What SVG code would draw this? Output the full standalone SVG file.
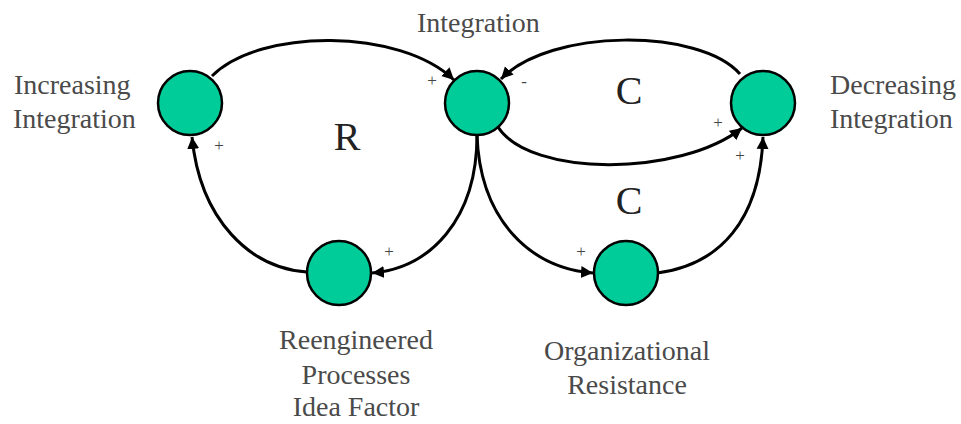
<svg xmlns="http://www.w3.org/2000/svg" width="961" height="424" viewBox="0 0 961 424">
<style>
.node{fill:#00cc99;stroke:#000;stroke-width:2.5}
.lbl{font-family:"Liberation Serif","Times New Roman",serif;font-size:28px;fill:#4a4a4a}
.loop{font-family:"Liberation Serif","Times New Roman",serif;font-size:40px;fill:#222}
.sign{font-family:"Liberation Serif","Times New Roman",serif;font-size:17px;fill:#444;text-anchor:middle}
.edge{fill:none;stroke:#000;stroke-width:3}
</style>
<defs>
<marker id="arr" markerUnits="userSpaceOnUse" markerWidth="14" markerHeight="14" refX="12" refY="6" orient="auto" viewBox="0 0 14 12">
<path d="M0,0 L12,6 L0,12 z" fill="#000"/>
</marker>
</defs>
<rect width="961" height="424" fill="#fff"/>
<g id="connectors">
<path class="edge" d="M212,76 C260,28 400,28 454,80" marker-end="url(#arr)"/>
<path class="edge" d="M740,74 C700,28 550,28 501,79" marker-end="url(#arr)"/>
<path class="edge" d="M498,127 C530,177 680,177 742,128" marker-end="url(#arr)"/>
<path class="edge" d="M477,135 C477,220 430,268 372,273" marker-end="url(#arr)"/>
<path class="edge" d="M307,272 C250,268 200,220 192,137" marker-end="url(#arr)"/>
<path class="edge" d="M477,135 C480,220 530,268 593,273" marker-end="url(#arr)"/>
<path class="edge" d="M657,273 C720,265 760,220 763,137" marker-end="url(#arr)"/>
</g>
<g id="increasing">
<circle class="node" cx="190" cy="103" r="32"/>
<text class="lbl" x="14" y="94">Increasing</text>
<text class="lbl" x="13" y="128">Integration</text>
</g>
<g id="integration">
<circle class="node" cx="477" cy="103" r="32"/>
<text class="lbl" x="417" y="32">Integration</text>
</g>
<g id="decreasing">
<circle class="node" cx="763" cy="103" r="32"/>
<text class="lbl" x="830" y="94">Decreasing</text>
<text class="lbl" x="830" y="128">Integration</text>
</g>
<g id="reengineered">
<circle class="node" cx="339" cy="273" r="32"/>
<text class="lbl" x="356" y="349" text-anchor="middle">Reengineered</text>
<text class="lbl" x="356" y="384" text-anchor="middle">Processes</text>
<text class="lbl" x="356" y="416" text-anchor="middle">Idea Factor</text>
</g>
<g id="organizational">
<circle class="node" cx="626" cy="273" r="32"/>
<text class="lbl" x="627" y="360" text-anchor="middle">Organizational</text>
<text class="lbl" x="627" y="394" text-anchor="middle">Resistance</text>
</g>
<g id="loop-labels">
<text class="loop" x="347" y="150" text-anchor="middle">R</text>
<text class="loop" x="629" y="104" text-anchor="middle">C</text>
<text class="loop" x="629" y="214" text-anchor="middle">C</text>
</g>
<g id="signs">
<text class="sign" x="432" y="86">+</text>
<text class="sign" x="219" y="151">+</text>
<text class="sign" x="524" y="87">-</text>
<text class="sign" x="718" y="128">+</text>
<text class="sign" x="740" y="161">+</text>
<text class="sign" x="389" y="257">+</text>
<text class="sign" x="581" y="257">+</text>
</g>
</svg>
